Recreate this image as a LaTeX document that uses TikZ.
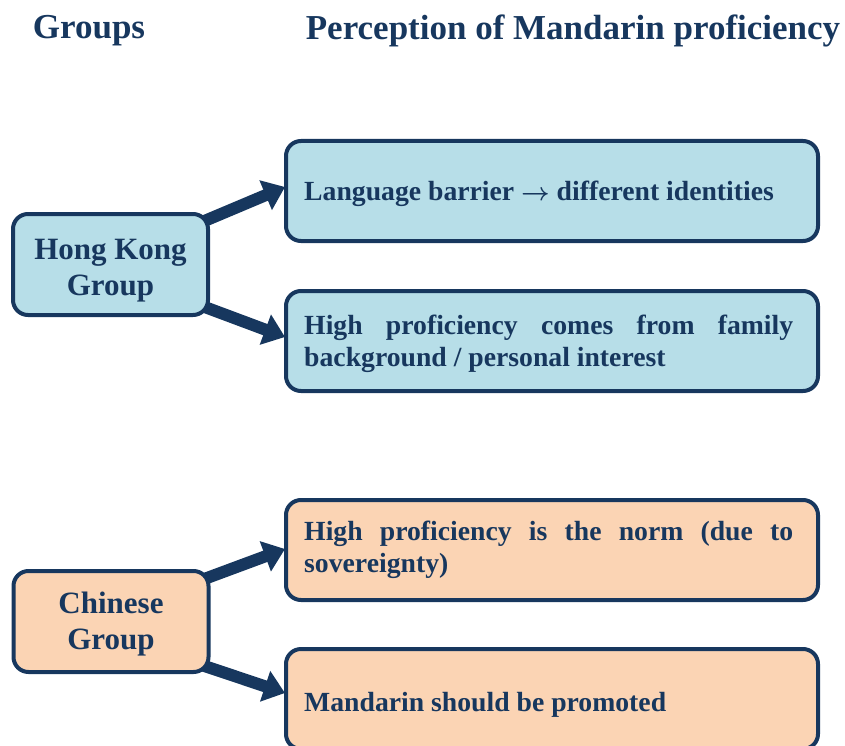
\documentclass[tikz,border=0pt]{standalone}
\usepackage{fontspec}
\setmainfont{Liberation Serif}
\usetikzlibrary{arrows.meta,backgrounds}
\definecolor{navy}{HTML}{17375E}
\definecolor{lblue}{HTML}{B7DEE8}
\definecolor{peach}{HTML}{FBD4B4}
\tikzset{
  grpbox/.style={draw=navy, line width=4pt, rounded corners=15pt, minimum width=195pt, minimum height=101pt, inner sep=0pt},
  grptext/.style={inner sep=0pt, align=center, text=navy, font=\bfseries\fontsize{31}{36}\selectfont},
  percbox/.style={draw=navy, line width=4pt, rounded corners=15pt, minimum width=532pt, minimum height=100pt, inner sep=0pt},
  perctext/.style={inner sep=0pt, anchor=west, text width=489pt, align=justify, text=navy, font=\bfseries\fontsize{27.7}{32.5}\selectfont},
  heading/.style={text=navy, font=\bfseries\fontsize{35}{40}\selectfont, inner sep=0pt},
  bigarrow/.style={draw=navy, line width=12pt, -{Triangle[length=21pt,width=31pt]}}
}
\begin{document}
\begin{tikzpicture}[x=1pt,y=-1pt]
\useasboundingbox (0,0) rectangle (845,746);
\node[heading] (hg) at (89,31) {Groups};
\node[heading] (hp) at (573,31) {Perception of Mandarin proficiency};

% boxes
\node[grpbox, fill=lblue] (hk) at (110.5,264.5) {};
\node[percbox, fill=lblue] (p1) at (552,191) {};
\node[percbox, fill=lblue] (p2) at (552,341) {};
\node[grpbox, fill=peach] (cn) at (111,621.5) {};
\node[percbox, fill=peach] (p3) at (552,550) {};
\node[percbox, fill=peach] (p4) at (552,699) {};

% texts
\node[grptext] (hkT) at ([shift={(0,6)}]hk.center) {Hong Kong\\Group};
\node[grptext] (cnT) at ([shift={(0,3)}]cn.center) {Chinese\\Group};
\node[perctext] (p1T) at ([shift={(20,3)}]p1.west) {Language barrier {\boldmath\(\rightarrow\)} different identities};
\node[perctext] (p2T) at ([shift={(20,3)}]p2.west) {High proficiency comes from family\linebreak background / personal interest};
\node[perctext] (p3T) at ([shift={(20,0)}]p3.west) {High proficiency is the norm (due to\linebreak sovereignty)};
\node[perctext] (p4T) at ([shift={(20,6)}]p4.west) {Mandarin should be promoted};

% arrows (behind boxes)
\begin{scope}[on background layer]
\draw[bigarrow] ([shift={(-8,10)}]hk.north east) -- ([shift={(1,-4)}]p1.west);
\draw[bigarrow] ([shift={(-8,-11)}]hk.south east) -- ([shift={(1,-4)}]p2.west);
\draw[bigarrow] ([shift={(-9,11)}]cn.north east) -- ([shift={(1,-1)}]p3.west);
\draw[bigarrow] ([shift={(-9,-9)}]cn.south east) -- ([shift={(1,-6)}]p4.west);
\end{scope}
\end{tikzpicture}
\end{document}
